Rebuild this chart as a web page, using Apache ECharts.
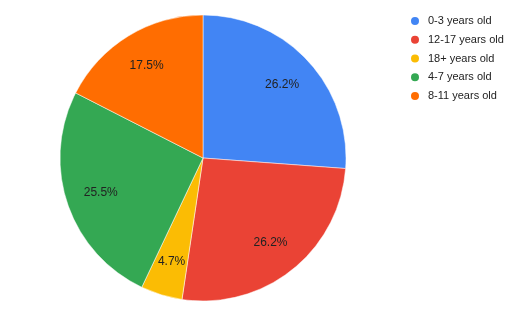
<!DOCTYPE html>
<html><head><meta charset="utf-8">
<script src="https://cdn.jsdelivr.net/npm/echarts@6/dist/echarts.min.js"></script>
<style>html,body{margin:0;padding:0;background:#fff}#c{width:512px;height:316px}</style>
</head><body><div id="c"></div>
<script>
var categories = ['0-3 years old', '12-17 years old', '18+ years old', '4-7 years old', '8-11 years old'];
var values = [26.2, 26.2, 4.7, 25.5, 17.5];
var colors = ['#4285F4', '#EA4335', '#FBBC04', '#34A853', '#FF6D01'];

var data = categories.map(function (c, i) { return { name: c, value: values[i] }; });
var chart = echarts.init(document.getElementById('c'), null, { renderer: 'canvas' });
chart.setOption({
  animation: false,
  color: colors,
  legend: {
    data: categories,
    orient: 'vertical',
    left: 404,
    top: 9,
    icon: 'circle',
    itemWidth: 16,
    itemHeight: 10,
    itemGap: 4.75,
    textStyle: { fontFamily: 'Liberation Sans, Arial', fontSize: 11, color: '#222', lineHeight: 14 }
  },
  series: [{
    type: 'pie',
    center: [203, 158],
    radius: [0, 143],
    startAngle: 90,
    clockwise: true,
    data: data,
    label: { show: false },
    labelLine: { show: false },
    itemStyle: { borderColor: '#fff', borderWidth: 0.5 },
    emphasis: { disabled: true }
  }, {
    type: 'pie',
    center: [203, 158],
    radius: [67, 143],
    startAngle: 90,
    clockwise: true,
    silent: true,
    data: data,
    itemStyle: { color: 'rgba(0,0,0,0)', borderWidth: 0 },
    label: {
      show: true, position: 'inner',
      formatter: function (p) { return p.value.toFixed(1) + '%'; },
      fontFamily: 'Liberation Sans, Arial', fontSize: 12, color: '#222'
    },
    labelLine: { show: false },
    emphasis: { disabled: true }
  }]
});
</script></body></html>
